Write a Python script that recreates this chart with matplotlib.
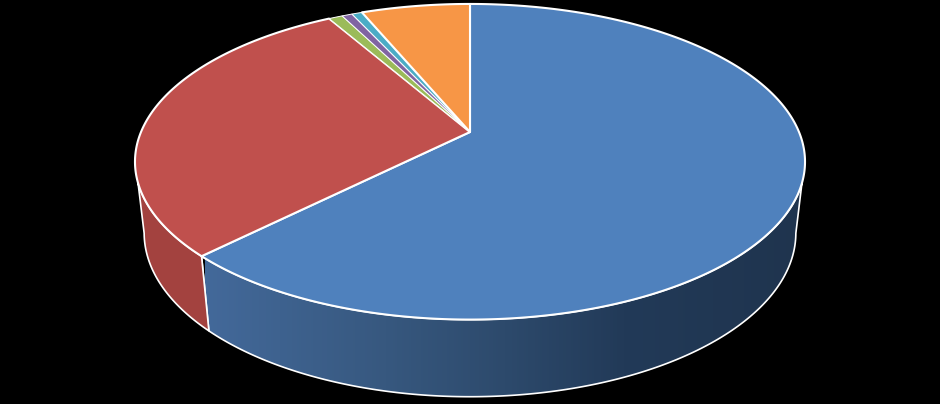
import matplotlib
matplotlib.use("Agg")
import matplotlib.pyplot as plt
from matplotlib.colors import LinearSegmentedColormap
from matplotlib.patches import Polygon
import numpy as np

# share of each slice in percent, clockwise from 12 o'clock
categories = ["A", "B", "C", "D", "E", "F"]
values = [62.5, 29.2, 0.8, 0.6, 0.6, 6.3]
colors = ["#4f81bd", "#c0504d", "#9bbb59", "#8064a2", "#4bacc6", "#f79646"]

W, H = 940, 404
CX = 470
K = 0.1886  # perspective strength
SIL_TOP = 108.4  # where the side wall leaves the top rim
SIL_BOT = 101.0  # and where it meets the bottom rim

fig = plt.figure(figsize=(W / 100, H / 100), dpi=100, facecolor="black")
ax = fig.add_axes([0, 0, 1, 1])
ax.set_facecolor("black")
ax.axis("off")


def top(deg):
    t = np.radians(deg)
    u, v = np.sin(t), -np.cos(t)
    d = 1 - K * v
    return CX + 329 * u / d, 132 + 152.2 * v / d


def bottom(deg):
    t = np.radians(deg)
    u, v = np.sin(t), -np.cos(t)
    d = 1 - K * v
    return CX + 320 * u / d, 202 + 158 * v / d


def wall(a, b, a2, b2):
    xt, yt = top(np.linspace(a, b, 200))
    xb, yb = bottom(np.linspace(b2, a2, 200))
    return np.column_stack([np.r_[xt, xb], np.r_[yt, yb]])


shares = np.array(values) / sum(values) * 360
ends = np.cumsum(shares)
starts = ends - shares

# side walls, only the two front slices can be seen
blue_pts = wall(SIL_TOP, ends[0], SIL_BOT, ends[0])
red_pts = wall(ends[0], 360 - SIL_TOP, ends[0], 360 - SIL_BOT)
ax.add_patch(Polygon(blue_pts, closed=True, fc="none", ec="white", lw=1.2, zorder=3))
side = LinearSegmentedColormap.from_list(
    "side", [(0, "#43699a"), (0.3, "#37587f"), (0.5, "#2d4a6c"), (0.7, "#223a58"), (1, "#1f344e")]
)
grad = ax.imshow(np.linspace(0, 1, 600)[None, :], extent=(205, 805, 404, 150), cmap=side, aspect="auto", zorder=2)
grad.set_clip_path(Polygon(blue_pts, closed=True, transform=ax.transData))
ax.add_patch(Polygon(red_pts, closed=True, fc="#a3423f", ec="white", lw=1.2, zorder=3))

# top face, thin slices get a thinner outline so their colour still shows
for s, e, c in zip(starts, ends, colors):
    x, y = top(np.linspace(s, e, max(int(e - s) * 3, 8)))
    pts = np.column_stack([np.r_[CX, x], np.r_[132, y]])
    lw = 1.5 if e - s > 15 else 0.7
    ax.add_patch(Polygon(pts, closed=True, fc=c, ec="white", lw=lw, joinstyle="round", zorder=4))

ax.set_xlim(0, W)
ax.set_ylim(H, 0)
fig.savefig("out.png", dpi=100, facecolor="black")
